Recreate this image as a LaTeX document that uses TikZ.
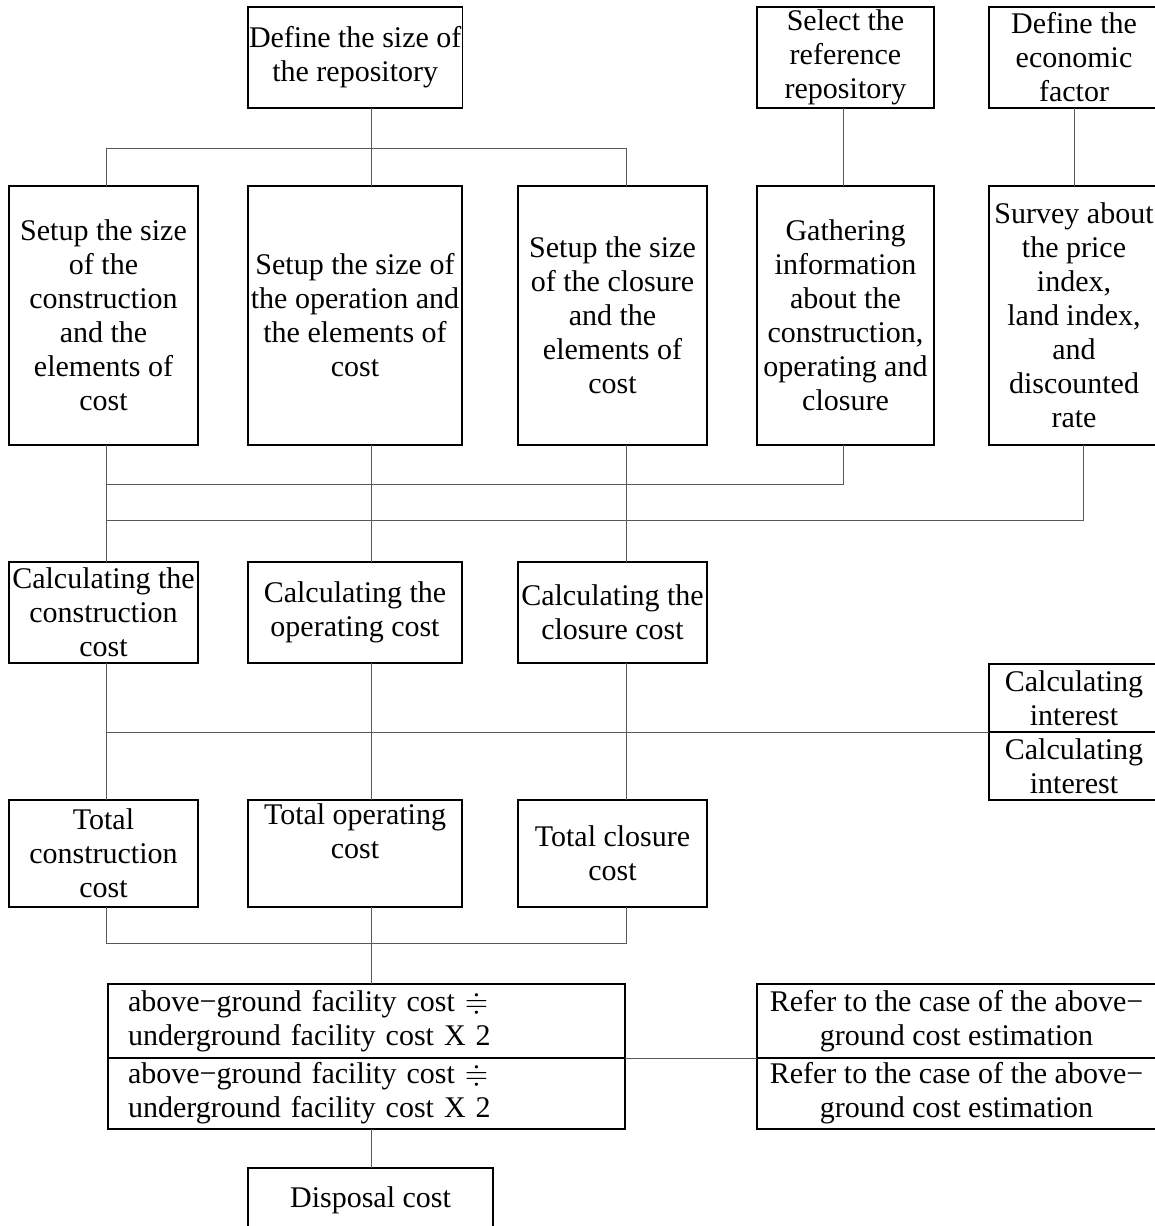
\documentclass[tikz,border=0pt]{standalone}
\usepackage{amssymb}
\usepackage{fontspec}
\setmainfont{Liberation Serif}
\usepackage{tikz}
\usetikzlibrary{positioning}
\tikzset{
	every node/.append style={
		font=\fontsize{15}{17}\selectfont,
	},
	stage/.append style={
		draw,
		line width=0.8pt,
		align=center,
		anchor=north west,
		inner xsep=0.5pt,
		inner ysep=0pt,
		outer sep=0pt,
	},
	link/.append style={
		draw=black!65,
		line width=0.5pt,
	},
	colA/.append style={minimum width=94.5pt},
	colB/.append style={minimum width=107pt},
	colD/.append style={minimum width=88.5pt},
	colE/.append style={minimum width=85pt},
	rowTop/.append style={minimum height=50.5pt},
	rowSetup/.append style={minimum height=129.5pt},
	rowTotal/.append style={minimum height=53.5pt},
	wide/.append style={
		align=left,
		text width=238.5pt,
		inner xsep=10pt,
	},
}

\begin{document}
\begin{tikzpicture}[x=0.5pt, y=-0.5pt]
\useasboundingbox (0,0) rectangle (1155,1226);

% bus lines
\coordinate(busA) at (106,0);
\coordinate(busB) at (371,0);
\coordinate(busC) at (626,0);
\coordinate(busD) at (843,0);
\coordinate(busE) at (1083,0);

\node(Size)[stage, colB, rowTop] at (248,7) {Define the size of\\the repository};
\node(Select)[stage, colD, rowTop] at (757,7) {Select the\\reference\\repository};
\node(Econ)[stage, colE, rowTop] at (989,7) {Define the\\economic\\factor};

\node(SetC)[stage, colA, rowSetup] at (9,186) {Setup the size\\of the\\construction\\and the\\elements of\\cost};
\node(SetO)[stage, colB, rowSetup] at (248,186) {Setup the size of\\the operation and\\the elements of\\cost};
\node(SetCl)[stage, colA, rowSetup] at (518,186) {Setup the size\\of the closure\\and the\\elements of\\cost};
\node(Gather)[stage, colD, rowSetup] at (757,186) {Gathering\\information\\about the\\construction,\\operating and\\closure};
\node(Survey)[stage, colE, rowSetup] at (989,186) {Survey about\\the price\\index,\\land index,\\and\\discounted\\rate};

\node(CalcC)[stage, colA, rowTop] at (9,562) {Calculating the\\construction\\cost};
\node(CalcO)[stage, colB, rowTop] at (248,562) {Calculating the\\operating cost};
\node(CalcCl)[stage, colA, rowTop] at (518,562) {Calculating the\\closure cost};

\node(Int1)[stage, colE, minimum height=34pt] at (989,664) {Calculating\\interest};
\node(Int2)[stage, colE, minimum height=34pt, below = 0pt of Int1] {Calculating\\interest};

\node(TotC)[stage, colA, rowTotal] at (9,800) {Total\\construction\\cost};
\node(TotO)[stage, colB, rowTotal] at (248,800) {Total operating\\cost\\\strut};
\node(TotCl)[stage, colA, rowTotal] at (518,800) {Total closure\\cost};

\node(Above1)[stage, wide, minimum height=37pt] at (108,984) {above−ground facility cost $\doteqdot$\\underground facility cost X 2};
\node(Above2)[stage, wide, minimum height=35.5pt, below = 0pt of Above1] {above−ground facility cost $\doteqdot$\\underground facility cost X 2};
\node(Refer1)[stage, minimum width=199.5pt, minimum height=37pt] at (757,984) {Refer to the case of the above−\\ground cost estimation};
\node(Refer2)[stage, minimum width=199.5pt, minimum height=35.5pt, below = 0pt of Refer1] {Refer to the case of the above−\\ground cost estimation};

\node(Disposal)[stage, minimum width=122.5pt, minimum height=32pt] at (248,1168) {Disposal cost};

\coordinate(split) at (371,148);
\draw[link] (Size.south -| busB) -- (SetO.north -| busB);
\draw[link] (SetC.north -| busA) -- (busA |- split) -- (busC |- split) -- (SetCl.north -| busC);
\draw[link] (Select.south -| busD) -- (Gather.north -| busD);
\draw[link] (Econ) -- (Survey);

\draw[link] (SetC.south -| busA) -- (CalcC.north -| busA);
\draw[link] (SetO.south -| busB) -- (CalcO.north -| busB);
\draw[link] (SetCl.south -| busC) -- (CalcCl.north -| busC);
\coordinate(join1) at (106,484);
\coordinate(join2) at (106,520);
\draw[link] (Gather.south -| busD) |- (join1);
\draw[link] (Survey.south -| busE) |- (join2);

\draw[link] (CalcC.south -| busA) -- (TotC.north -| busA);
\draw[link] (CalcO.south -| busB) -- (TotO.north -| busB);
\draw[link] (CalcCl.south -| busC) -- (TotCl.north -| busC);
\draw[link] (busA |- Int1.south) -- (Int1.south west);

\coordinate(merge) at (371,943);
\draw[link] (TotC.south -| busA) -- (busA |- merge) -- (busC |- merge) -- (TotCl.south -| busC);
\draw[link] (TotO.south -| busB) -- (Above1.north -| busB);
\draw[link] (Above1.south east) -- (Refer1.south west);
\draw[link] (Above2.south -| busB) -- (Disposal.north -| busB);

\end{tikzpicture}
\end{document}
